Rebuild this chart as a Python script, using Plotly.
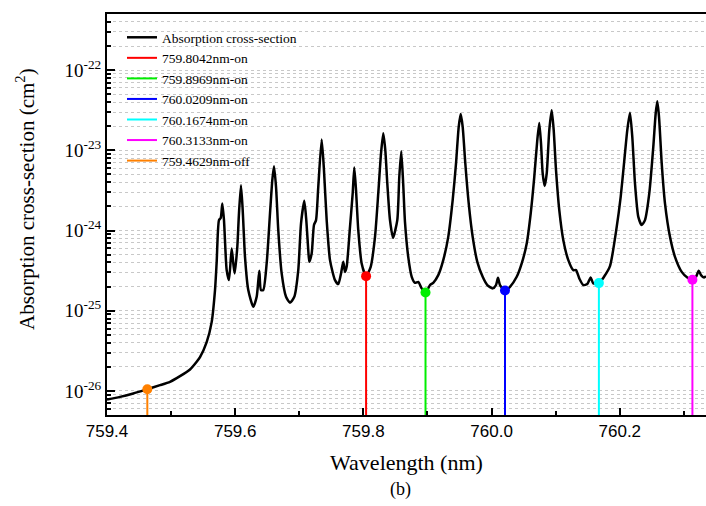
import plotly.graph_objects as go

# Absorption cross-section spectrum (wavelength nm, cross-section cm^2)
wavelength = [
    759.4000, 759.4203, 759.4410, 759.4624, 759.4827, 759.4983, 759.5139, 759.5295, 759.5399, 759.5451,
    759.5555, 759.5633, 759.5685, 759.5711, 759.5747, 759.5774, 759.5799, 759.5825, 759.5867, 759.5903,
    759.5945, 759.5970, 759.5992, 759.6033, 759.6059, 759.6090, 759.6117, 759.6153, 759.6204, 759.6282,
    759.6335, 759.6376, 759.6402, 759.6438, 759.6491, 759.6543, 759.6579, 759.6605, 759.6637, 759.6672,
    759.6725, 759.6793, 759.6855, 759.6922, 759.6984, 759.7027, 759.7078, 759.7109, 759.7140, 759.7156,
    759.7193, 759.7229, 759.7261, 759.7296, 759.7349, 759.7385, 759.7427, 759.7479, 759.7557, 759.7608,
    759.7651, 759.7686, 759.7713, 759.7739, 759.7791, 759.7833, 759.7858, 759.7885, 759.7920, 759.7973,
    759.8041, 759.8114, 759.8181, 759.8232, 759.8275, 759.8310, 759.8342, 759.8373, 759.8415, 759.8462,
    759.8529, 759.8560, 759.8591, 759.8622, 759.8649, 759.8700, 759.8754, 759.8805, 759.8856, 759.8910,
    759.8972, 759.9039, 759.9090, 759.9168, 759.9246, 759.9324, 759.9393, 759.9445, 759.9487, 759.9518,
    759.9549, 759.9590, 759.9643, 759.9705, 759.9777, 759.9861, 759.9933, 760.0017, 760.0069, 760.0100,
    760.0131, 760.0209, 760.0287, 760.0392, 760.0470, 760.0548, 760.0610, 760.0666, 760.0713, 760.0744,
    760.0771, 760.0797, 760.0828, 760.0860, 760.0900, 760.0938, 760.0969, 760.1005, 760.1056, 760.1119,
    760.1197, 760.1275, 760.1317, 760.1368, 760.1431, 760.1493, 760.1546, 760.1587, 760.1676, 760.1754,
    760.1847, 760.1952, 760.2014, 760.2066, 760.2117, 760.2159, 760.2195, 760.2237, 760.2289, 760.2342,
    760.2393, 760.2460, 760.2523, 760.2560, 760.2585, 760.2612, 760.2654, 760.2705, 760.2783, 760.2861,
    760.2966, 760.3053, 760.3131, 760.3189, 760.3231, 760.3267, 760.3314, 760.3345,
]
cross_section = [
    7.83e-27, 8.43e-27, 9.31e-27, 1.05e-26, 1.18e-26, 1.30e-26, 1.53e-26, 1.85e-26, 2.31e-26, 2.64e-26,
    4.06e-26, 7.21e-26, 1.81e-25, 4.04e-25, 1.35e-24, 1.43e-24, 2.18e-24, 1.35e-24, 3.21e-25, 2.41e-25,
    5.98e-25, 3.92e-25, 2.92e-25, 6.26e-25, 1.65e-24, 3.68e-24, 1.80e-24, 4.70e-25, 1.81e-25, 1.12e-25,
    1.49e-25, 3.15e-25, 1.81e-25, 1.81e-25, 3.89e-25, 1.63e-24, 4.25e-24, 6.35e-24, 3.51e-24, 1.01e-24,
    2.92e-25, 1.49e-25, 1.26e-25, 1.49e-25, 3.21e-25, 1.23e-24, 2.35e-24, 1.35e-24, 5.70e-25, 4.07e-25,
    5.18e-25, 1.17e-24, 1.35e-24, 3.51e-24, 1.37e-23, 5.66e-24, 1.35e-24, 4.28e-25, 2.41e-25, 2.15e-25,
    2.92e-25, 4.07e-25, 3.05e-25, 3.53e-25, 1.11e-24, 2.90e-24, 6.12e-24, 3.19e-24, 1.01e-24, 3.89e-25,
    2.70e-25, 3.53e-25, 8.34e-25, 2.90e-24, 9.14e-24, 1.63e-23, 1.00e-23, 3.87e-24, 1.35e-24, 8.11e-25,
    1.35e-24, 4.68e-24, 9.77e-24, 3.68e-24, 1.27e-24, 4.66e-25, 2.65e-25, 2.23e-25, 2.29e-25, 1.90e-25,
    1.69e-25, 2.09e-25, 2.23e-25, 2.78e-25, 4.28e-25, 8.34e-25, 2.39e-24, 6.87e-24, 1.96e-23, 2.83e-23,
    1.96e-23, 6.87e-24, 2.18e-24, 8.34e-25, 4.07e-25, 2.65e-25, 2.09e-25, 1.90e-25, 2.09e-25, 2.57e-25,
    2.09e-25, 1.79e-25, 1.99e-25, 2.65e-25, 3.89e-25, 6.90e-25, 1.63e-24, 4.68e-24, 1.34e-23, 2.20e-23,
    1.22e-23, 5.15e-24, 3.58e-24, 5.15e-24, 1.79e-23, 3.17e-23, 1.79e-23, 5.66e-24, 1.80e-24, 7.59e-25,
    4.28e-25, 3.21e-25, 3.21e-25, 2.53e-25, 2.09e-25, 2.15e-25, 2.60e-25, 2.19e-25, 2.21e-25, 2.65e-25,
    3.60e-25, 1.11e-24, 2.63e-24, 6.87e-24, 1.79e-23, 2.94e-23, 1.47e-23, 3.87e-24, 1.48e-24, 1.17e-24,
    1.35e-24, 2.90e-24, 1.11e-23, 2.88e-23, 4.10e-23, 2.62e-23, 6.87e-24, 2.18e-24, 8.34e-25, 4.70e-25,
    3.05e-25, 2.60e-25, 2.45e-25, 2.65e-25, 3.15e-25, 2.78e-25, 2.60e-25, 2.70e-25,
]

# Selected laser wavelengths
line_names = ["759.8042nm-on", "759.8969nm-on", "760.0209nm-on", "760.1674nm-on", "760.3133nm-on", "759.4629nm-off"]
line_wavelength = [759.8042, 759.8969, 760.0209, 760.1674, 760.3133, 759.4629]
line_cross_section = [2.70e-25, 1.69e-25, 1.79e-25, 2.21e-25, 2.43e-25, 1.05e-26]
line_colors = ["#FF0000", "#00EE00", "#0000FF", "#00FFFF", "#FF00FF", "#FF8000"]

# Axis settings
x_range = [759.4, 760.3345]
x_ticks = [759.4, 759.6, 759.8, 760.0, 760.2]
x_minor = [759.5, 759.7, 759.9, 760.1, 760.3]
log_y_range = [-26.3, -21.3]
decades = [-27, -26, -25, -24, -23, -22]
y_major = [-26, -25, -24, -23, -22]

y_bottom = 10 ** log_y_range[0]

SERIF = "Liberation Serif, Times New Roman, serif"

fig = go.Figure()

fig.add_trace(go.Scatter(
    x=wavelength, y=cross_section, mode="lines",
    line=dict(color="black", width=2.5, shape="spline", smoothing=0.6),
    name="Absorption cross-section",
))

for name, wl, cs, col in zip(line_names, line_wavelength, line_cross_section, line_colors):
    fig.add_trace(go.Scatter(
        x=[wl, wl], y=[y_bottom, cs], mode="lines",
        line=dict(color=col, width=2), name=name,
    ))

for wl, cs, col in zip(line_wavelength, line_cross_section, line_colors):
    fig.add_trace(go.Scatter(
        x=[wl], y=[cs], mode="markers",
        marker=dict(color=col, size=10), showlegend=False,
    ))

y_minor_vals = [m * 10 ** d for d in decades for m in range(2, 10)]

fig.update_layout(
    width=706, height=506,
    margin=dict(l=107, r=0, t=14, b=91),
    paper_bgcolor="white", plot_bgcolor="white",
    font=dict(family=SERIF, color="black"),
    showlegend=True,
    legend=dict(
        x=0.025, y=0.98, xanchor="left", yanchor="top",
        bgcolor="rgba(0,0,0,0)", font=dict(family=SERIF, size=13.5),
        tracegroupgap=0, itemwidth=30,
    ),
    xaxis=dict(
        range=x_range, tickvals=x_ticks, ticktext=[f"{v:.1f}" for v in x_ticks],
        ticks="inside", ticklen=7, tickwidth=1.5, tickcolor="black",
        showline=True, linecolor="black", linewidth=2, mirror=True,
        showgrid=False, zeroline=False,
        tickfont=dict(family="Liberation Sans, Arial, sans-serif", size=17),
        minor=dict(tickvals=x_minor, ticks="inside", ticklen=4, tickcolor="black", showgrid=False),
        title=dict(text="Wavelength (nm)", font=dict(family=SERIF, size=22), standoff=14),
    ),
    yaxis=dict(
        type="log", range=log_y_range,
        tickvals=[10 ** d for d in y_major],
        ticktext=[f"10<sup>{d}</sup>" for d in y_major],
        ticks="inside", ticklen=8, tickwidth=1.5, tickcolor="black",
        showline=True, linecolor="black", linewidth=2,
        showgrid=True, gridcolor="#c8c8c8", gridwidth=1, griddash="dot",
        zeroline=False,
        tickfont=dict(family=SERIF, size=19),
        minor=dict(tickvals=y_minor_vals, ticks="inside", ticklen=4, tickcolor="black",
                   showgrid=True, gridcolor="#c8c8c8", gridwidth=1, griddash="dot"),
    ),
)

fig.add_annotation(
    text="Absorption cross-section (cm<sup>2</sup>)", textangle=-90,
    xref="paper", yref="paper", x=-0.135, y=0.539,
    xanchor="center", yanchor="middle", showarrow=False,
    font=dict(family=SERIF, size=21),
)

fig.add_annotation(
    text="(b)", xref="paper", yref="paper", x=0.49, y=-0.187,
    xanchor="center", yanchor="middle", showarrow=False,
    font=dict(family=SERIF, size=18),
)

fig.write_html("out.html")
